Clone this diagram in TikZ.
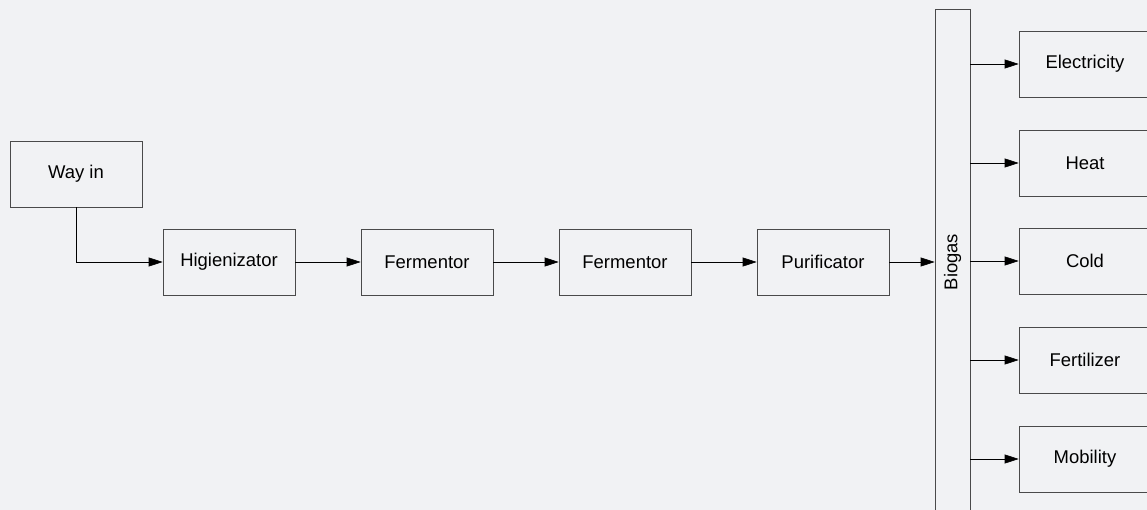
\documentclass[tikz,border=0pt]{standalone}
\usepackage{fontspec}
\setmainfont{Liberation Sans}
\usetikzlibrary{arrows.meta}
\definecolor{bgcol}{HTML}{F1F2F4}
\definecolor{linecol}{HTML}{4A4A4A}
\tikzset{
  stage/.style={draw=linecol, minimum width=2.64cm, minimum height=1.32cm, inner sep=0pt, font=\fontsize{10.5}{12}\selectfont},
  flow/.style={draw=black, -{Triangle[length=2.8mm, width=1.8mm]}}
}
\begin{document}
\begin{tikzpicture}[x=0.02cm, y=-0.02cm]
    \fill[bgcol] (0, 0) rectangle (1147, 510);
    \clip (0, 0) rectangle (1147, 510);

    \node[stage] (wayin) at(76, 174){Way in};
    \node[stage] (higien) at(229, 262){Higienizator};
    \node[stage] (ferm1) at(427, 262){Fermentor};
    \node[stage] (ferm2) at(625, 262){Fermentor};
    \node[stage] (purif) at(823, 262){Purificator};
    \node[stage, minimum width=0.7cm, minimum height=10.12cm] (biogas) at(952.5, 262){};
    \node[font=\fontsize{10.5}{12}\selectfont, rotate=90] at(biogas.center){Biogas};

    \node[stage] (elec) at(1085, 64){Electricity};
    \node[stage] (heat) at(1085, 163){Heat};
    \node[stage] (cold) at(1085, 261){Cold};
    \node[stage] (fert) at(1085, 360){Fertilizer};
    \node[stage] (mobil) at(1085, 459){Mobility};

    \draw[flow] (wayin.south) |- (higien.west);
    \draw[flow] (higien) -- (ferm1);
    \draw[flow] (ferm1) -- (ferm2);
    \draw[flow] (ferm2) -- (purif);
    \draw[flow] (purif.east) -- (biogas.west |- purif.east);

    \draw[flow] (biogas.east |- elec.west) -- (elec.west);
    \draw[flow] (biogas.east |- heat.west) -- (heat.west);
    \draw[flow] (biogas.east |- cold.west) -- (cold.west);
    \draw[flow] (biogas.east |- fert.west) -- (fert.west);
    \draw[flow] (biogas.east |- mobil.west) -- (mobil.west);
\end{tikzpicture}
\end{document}
